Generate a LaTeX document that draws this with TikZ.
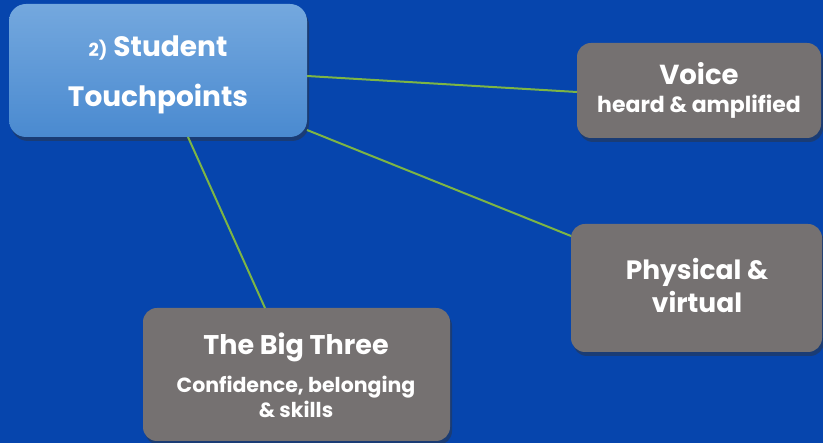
\documentclass[tikz,border=0pt]{standalone}
\usepackage{fontspec}
\setmainfont{Poppins}
\usetikzlibrary{shadows}
\definecolor{bg}{HTML}{0645AD}
\definecolor{boxgray}{HTML}{757171}
\definecolor{topblue}{HTML}{74A8DE}
\definecolor{botblue}{HTML}{4A8AD0}
\definecolor{linkgreen}{HTML}{7DB545}
\tikzset{
  mainbox/.style={rounded corners=17pt, top color=topblue, bottom color=botblue, draw=none,
    drop shadow={shadow xshift=2pt, shadow yshift=-4pt, opacity=0.45, fill=black!80}},
  graybox/.style={rounded corners=14pt, fill=boxgray, draw=none,
    drop shadow={shadow xshift=2pt, shadow yshift=-4pt, opacity=0.45, fill=black!80}},
  link/.style={draw=linkgreen, line width=2pt},
  txt/.style={text=white, font=\bfseries, anchor=base, inner sep=0pt}
}
\begin{document}
\begin{tikzpicture}[x=1pt,y=-1pt]
\useasboundingbox (0,0) rectangle (823,443);
\fill[bg] (0,0) rectangle (823,443);
% boxes
\node[mainbox, minimum width=298pt, minimum height=133pt] (main) at (158,70.5) {};
\node[graybox, minimum width=244pt, minimum height=95pt] (voice) at (699,90.5) {};
\node[graybox, minimum width=251pt, minimum height=128pt] (phys) at (696.5,288) {};
\node[graybox, minimum width=307pt, minimum height=133pt] (big) at (296.5,374.5) {};
% connectors
\coordinate (m1) at (307,76);
\coordinate (m2) at (307,130);
\coordinate (m3) at (188,137);
\coordinate (v1) at (577,92);
\coordinate (p1) at (571,236);
\coordinate (b1) at (265,308);
\draw[link] (m1) -- (v1);
\draw[link] (m2) -- (p1);
\draw[link] (m3) -- (b1);
% texts
\node[txt, font=\bfseries\fontsize{28}{32}\selectfont] (t1) at (158,57) {{\fontsize{18}{22}\selectfont 2)} Student};
\node[txt, font=\bfseries\fontsize{28}{32}\selectfont] (t2) at (158,107) {Touchpoints};
\node[txt, font=\bfseries\fontsize{27.5}{32}\selectfont] (t3) at (699,85) {Voice};
\node[txt, font=\bfseries\fontsize{22}{26}\selectfont] (t4) at (699,113) {heard \& amplified};
\node[txt, font=\bfseries\fontsize{26.5}{30}\selectfont] (t5) at (697,280) {Physical \&};
\node[txt, font=\bfseries\fontsize{26.5}{30}\selectfont] (t6) at (697,313) {virtual};
\node[txt, font=\bfseries\fontsize{27}{30}\selectfont] (t7) at (296,355) {The Big Three};
\node[txt, font=\bfseries\fontsize{20.5}{24}\selectfont] (t8) at (296,393) {Confidence, belonging};
\node[txt, font=\bfseries\fontsize{20.5}{24}\selectfont] (t9) at (296,418) {\& skills};
\end{tikzpicture}
\end{document}
